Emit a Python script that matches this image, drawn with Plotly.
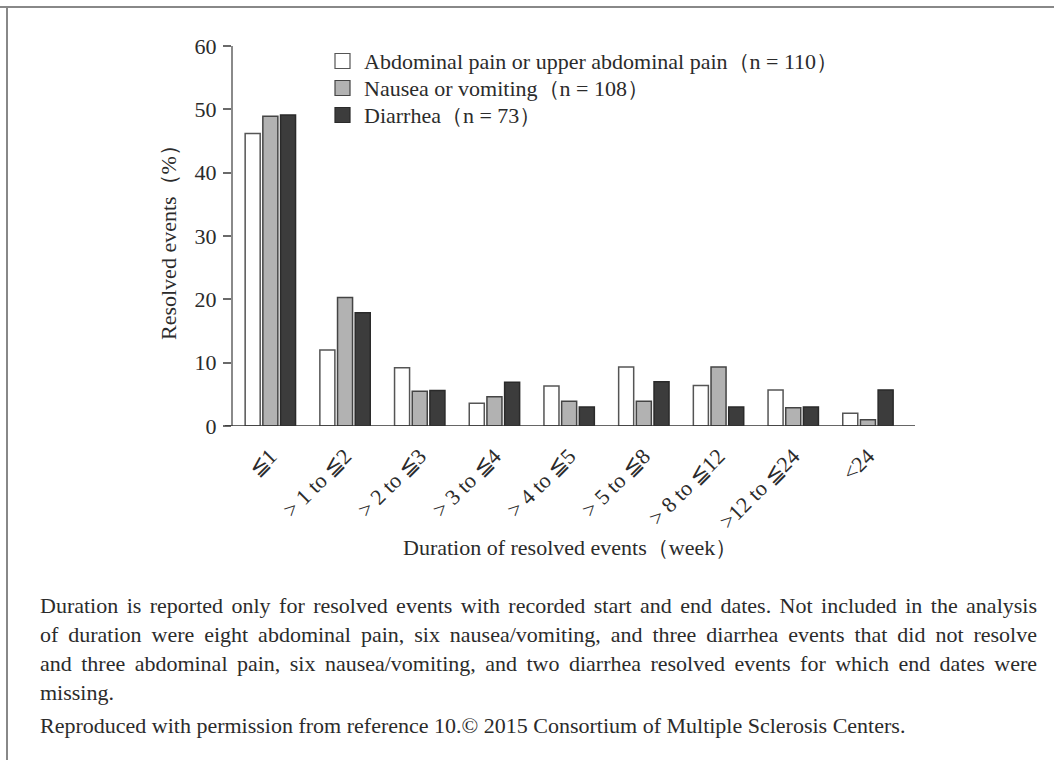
import json
import plotly.graph_objects as go

categories = ["≦1", "> 1 to ≦2", "> 2 to ≦3", "> 3 to ≦4", "> 4 to ≦5",
              "> 5 to ≦8", "> 8 to ≦12", ">12 to ≦24", "<24"]
abdominal = [46.2, 12.0, 9.2, 3.6, 6.3, 9.3, 6.4, 5.7, 2.0]
nausea = [48.9, 20.3, 5.5, 4.6, 3.9, 3.9, 9.3, 2.9, 1.0]
diarrhea = [49.1, 17.9, 5.6, 6.9, 3.0, 7.0, 3.0, 3.0, 5.7]
series_names = ["Abdominal pain or upper abdominal pain（n = 110）",
                "Nausea or vomiting（n = 108）",
                "Diarrhea（n = 73）"]
y_ticks = [0, 10, 20, 30, 40, 50, 60]
caption_lines = [
    "Duration is reported only for resolved events with recorded start and end dates. Not included in the analysis",
    "of duration were eight abdominal pain, six nausea/vomiting, and three diarrhea events that did not resolve",
    "and three abdominal pain, six nausea/vomiting, and two diarrhea resolved events for which end dates were",
    "missing.",
    "Reproduced with permission from reference 10.© 2015 Consortium of Multiple Sclerosis Centers.",
]
justified_lines = caption_lines[:3]

FONT = "Liberation Serif, Times New Roman, serif"
TXT = "#2b2b2b"
FS = 22
fills = ["#ffffff", "#b2b2b2", "#3c3c3c"]
edges = ["#555555", "#444444", "#2a2a2a"]

W, H = 1054, 760
L, R, T, B = 233, 139, 46, 334
pw, ph = W - L - R, H - T - B


def px(x):
    return (x - L) / pw


def py(y):
    return (H - B - y) / ph


fig = go.Figure()
x_idx = list(range(len(categories)))
for vals, name, fc, ec in zip([abdominal, nausea, diarrhea], series_names, fills, edges):
    fig.add_trace(go.Bar(x=x_idx, y=vals, name=name, showlegend=False,
                         marker=dict(color=fc, line=dict(color=ec, width=1.5))))

fig.update_layout(
    width=W, height=H,
    margin=dict(l=L, r=R, t=T, b=B, pad=0),
    paper_bgcolor="white", plot_bgcolor="white",
    barmode="group", bargap=0.29, bargroupgap=0.15,
    font=dict(family=FONT, size=FS, color=TXT),
    xaxis=dict(range=[-0.5, 8.63], tickmode="array", tickvals=x_idx, ticktext=categories,
               tickangle=-45, showline=False, showgrid=False, zeroline=False, ticks="",
               ticklabelstandoff=12,
               tickfont=dict(size=FS, family=FONT, color=TXT)),
    yaxis=dict(range=[0, 60], tickmode="array", tickvals=y_ticks, showline=True,
               linecolor="#8a8a8a", linewidth=2, ticks="outside", ticklen=8,
               tickwidth=1.5, tickcolor="#6a6a6a", showgrid=False, zeroline=False,
               ticklabelstandoff=2, tickfont=dict(size=FS, family=FONT, color=TXT)),
)

# x-axis baseline extending slightly left of the y-axis
fig.add_shape(type="line", xref="paper", yref="y", x0=px(225), x1=px(915), y0=0, y1=0,
              line=dict(color="#333333", width=1.5), layer="above")

# legend (swatches + labels)
leg_rows = [61, 88, 115]
for name, fc, ec, yy in zip(series_names, fills, edges, leg_rows):
    fig.add_shape(type="rect", xref="paper", yref="paper",
                  x0=px(335), x1=px(350), y0=py(yy + 7.5), y1=py(yy - 7.5),
                  fillcolor=fc, line=dict(color=ec, width=1.2))
    fig.add_annotation(text=name, xref="paper", yref="paper", x=px(362), y=py(yy),
                       xanchor="left", yanchor="middle", showarrow=False,
                       font=dict(size=FS, family=FONT, color=TXT))

# axis titles
fig.add_annotation(text="Resolved events（%）", xref="paper", yref="paper",
                   x=px(168), y=py(237), textangle=-90,
                   showarrow=False, font=dict(size=FS, family=FONT, color=TXT),
                   xanchor="center", yanchor="middle")
fig.add_annotation(text="Duration of resolved events（week）", xref="paper", yref="paper",
                   x=px(570), y=py(547), showarrow=False,
                   font=dict(size=FS, family=FONT, color=TXT),
                   xanchor="center", yanchor="middle")

# caption
cap_y = [605, 634, 663, 692, 725]
for line, yy in zip(caption_lines, cap_y):
    fig.add_annotation(text=line, xref="paper", yref="paper",
                       x=px(38), y=py(yy), showarrow=False,
                       xanchor="left", yanchor="middle",
                       font=dict(size=FS, family=FONT, color=TXT))

# frame lines (top and left)
fig.add_shape(type="line", xref="paper", yref="paper",
              x0=px(0), x1=px(W), y0=py(7), y1=py(7),
              line=dict(color="#888888", width=2))
fig.add_shape(type="line", xref="paper", yref="paper",
              x0=px(7), x1=px(7), y0=py(7), y1=py(H),
              line=dict(color="#888888", width=2))

JUSTIFY_WIDTH = 997
post_js = """
document.body.style.margin='0';
try {
  var just = %s;
  var texts = document.querySelectorAll('text.annotation-text');
  texts.forEach(function(t){
    var s = t.textContent;
    if (just.indexOf(s) >= 0) {
      var bb = t.getBBox();
      var n = (s.match(/ /g) || []).length;
      var cur = t.getComputedTextLength();
      var ws = (%d - cur) / n;
      t.setAttribute('x', bb.x);
      t.setAttribute('text-anchor', 'start');
      t.style.textAnchor = 'start';
      t.setAttribute('word-spacing', ws);
      t.style.wordSpacing = ws + 'px';
    }
  });
} catch (e) {}
""" % (json.dumps(justified_lines), JUSTIFY_WIDTH)

fig.write_html("out.html", config={"displayModeBar": False}, post_script=post_js)
